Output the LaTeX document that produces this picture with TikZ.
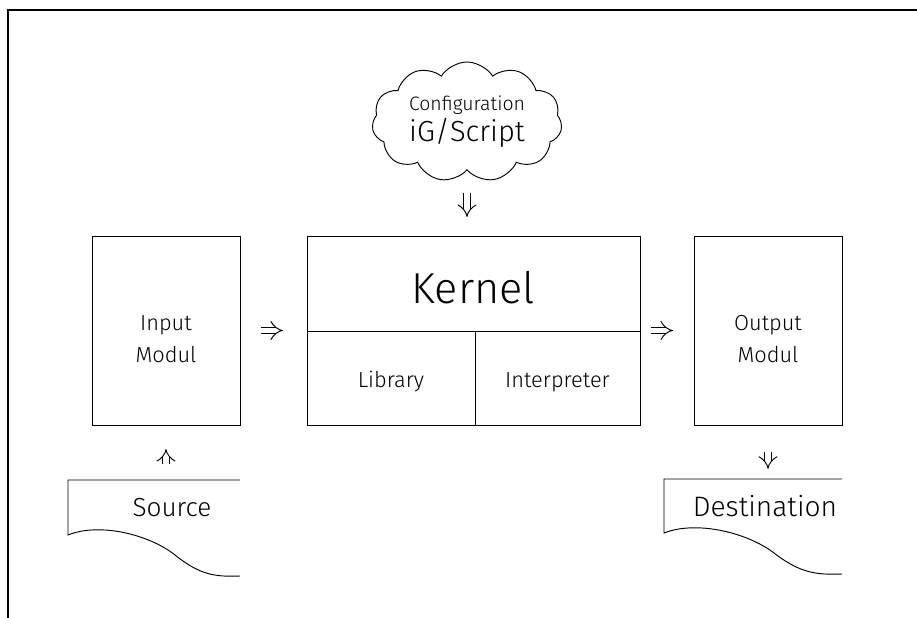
\documentclass[tikz,border=0pt]{standalone}
\usepackage{fontspec}
\setmainfont{Fira Sans}[UprightFont={* Light}]
\usetikzlibrary{arrows.meta,shapes.symbols,positioning}

\begin{document}
\begin{tikzpicture}[
  x=0.03cm, y=-0.03cm,
  line/.style={line width=.8pt},
  box/.style={line,draw,outer sep=0pt,inner sep=0pt},
  module/.style={box,minimum width=4.44cm,minimum height=5.67cm,align=center,
    font=\fontsize{18.6}{27}\selectfont},
  part/.style={box,minimum height=2.82cm,font=\fontsize{18.6}{22}\selectfont},
  doc/.style={minimum height=1.65cm,inner sep=0pt},
  flow/.style={line width=.8pt,double,double distance=5pt,-{Implies[scale=1.3]}}
]
  \useasboundingbox (0,0) rectangle (917,618);
  \draw[line width=2.5pt] (8,618) -- (8,10) -- (917,10);

  \node[cloud,draw,line,cloud puffs=11,cloud puff arc=115,cloud ignores aspect,
    minimum width=5.7cm,minimum height=3.6cm,inner sep=0pt,align=center] (cfg)
    at (467,122)
    {\fontsize{16.6}{20}\selectfont Configuration\\[2pt]
     \fontsize{24.8}{28}\selectfont iG/Script};

  \node[module] (inp) at (166,330.5) {\rule{0pt}{28pt}Input\\Modul};
  \node[box,minimum width=9.99cm,minimum height=2.85cm,
    font=\fontsize{37}{40}\selectfont] (kern) at (473.5,283.5) {\rule{0pt}{34pt}Kernel};
  \node[part,minimum width=5.04cm,below right=0pt and 0pt of kern.south west,
    anchor=north west] (lib) {\rule{0pt}{20pt}Library};
  \node[part,minimum width=4.95cm,right=0pt of lib] (intp) {\rule{0pt}{20pt}Interpreter};
  \node[module] (out) at (768,330.5) {\rule{0pt}{28pt}Output\\Modul};

  \node[doc,font=\fontsize{22.3}{26}\selectfont] (src) at (172,507.5) {Source};
  \node[doc,minimum height=1.62cm,font=\fontsize{24}{28}\selectfont] (dst) at (765,506) {Destination};

  \draw[line] (240,480) -- (68,480) -- (68,535)
    .. controls (100,522) and (150,535) .. (175,555)
    .. controls (200,575) and (215,577) .. (240,576);
  \draw[line] (842,479) -- (664,479) -- (664,533)
    .. controls (697,520) and (748,533) .. (774,553)
    .. controls (800,573) and (816,575) .. (842,574);

  \draw[flow,shorten <=.66cm,shorten >=.57cm] (cfg.south) -- (cfg.south |- kern.north);
  \draw[flow,shorten <=.63cm,shorten >=.72cm] (inp.east) -- (inp.east -| kern.west);
  \draw[flow,shorten <=.33cm,shorten >=.63cm] (out.west -| kern.east) -- (out.west);
  \draw[flow,shorten <=.48cm,shorten >=.72cm] (src.north -| inp.south) -- (inp.south);
  \draw[flow,shorten <=.81cm,shorten >=.3cm] (out.south) -- (out.south |- dst.north);
\end{tikzpicture}
\end{document}
